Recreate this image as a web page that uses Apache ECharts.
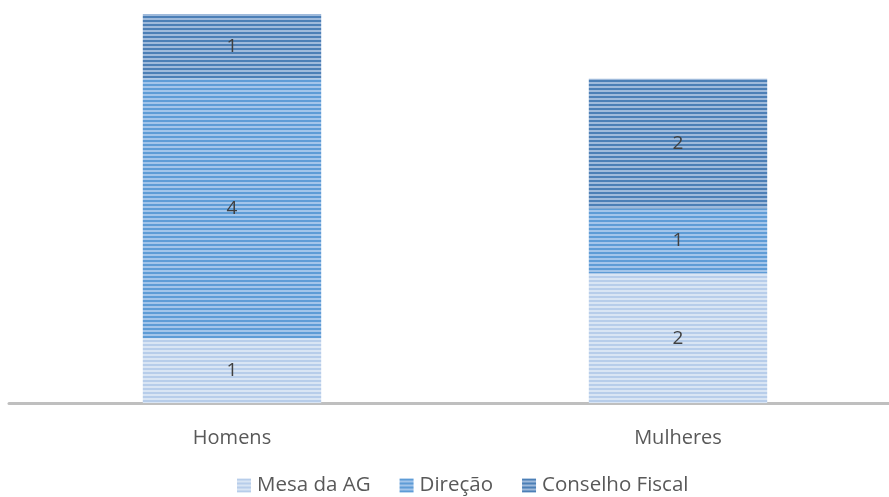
<!DOCTYPE html>
<html>
<head>
<meta charset="utf-8">
<script src="https://cdn.jsdelivr.net/npm/echarts@6/dist/echarts.min.js"></script>
<style>
html,body{margin:0;padding:0;background:#fff;overflow:hidden;}
#chart{width:905px;height:497px;}
</style>
</head>
<body>
<div id="chart"></div>
<script>
// Members per body, split by gender
const categories = ['Homens', 'Mulheres'];
const seriesNames = ['Mesa da AG', 'Direção', 'Conselho Fiscal'];
const mesaAG = [1, 2];
const direcao = [4, 1];
const conselhoFiscal = [1, 2];

// Horizontal stripe fill for each stack segment
function stripes(dark, light) {
  const c = document.createElement('canvas');
  c.width = 4; c.height = 4;
  const g = c.getContext('2d');
  g.fillStyle = light; g.fillRect(0, 0, 4, 4);
  g.fillStyle = dark; g.fillRect(0, 0, 4, 2);
  return { image: c, repeat: 'repeat' };
}

const fills = [
  stripes('#b7cdea', '#d9e5f4'),
  stripes('#5e9cd6', '#a3c5ea'),
  stripes('#4c7fb6', '#9fbadb')
];
const values = [mesaAG, direcao, conselhoFiscal];
const font = '"Open Sans", "Noto Sans", sans-serif';

const chart = echarts.init(document.getElementById('chart'));
chart.setOption({
  animation: false,
  grid: { left: 9, right: 4, top: 14, bottom: 94, containLabel: false },
  legend: {
    bottom: -4,
    left: 232,
    itemWidth: 14,
    itemHeight: 14,
    itemGap: 29,
    icon: 'rect',
    textStyle: { color: '#595959', fontSize: 20.5, fontFamily: font, padding: [0, 0, 0, 1] },
    data: seriesNames
  },
  xAxis: {
    type: 'category',
    data: categories,
    axisLine: { lineStyle: { color: '#bfbfbf', width: 3 } },
    axisTick: { show: false },
    axisLabel: { color: '#595959', fontSize: 20, fontFamily: font, margin: 25 }
  },
  yAxis: {
    type: 'value',
    min: 0,
    max: 6,
    interval: 1,
    show: false,
    splitLine: { show: false }
  },
  series: seriesNames.map((name, i) => ({
    name: name,
    type: 'bar',
    stack: 'total',
    barWidth: '40%',
    data: values[i],
    itemStyle: { color: fills[i] },
    label: {
      show: true,
      position: 'inside',
      color: '#404040',
      fontSize: 19,
      fontFamily: font
    }
  }))
});
</script>
</body>
</html>
